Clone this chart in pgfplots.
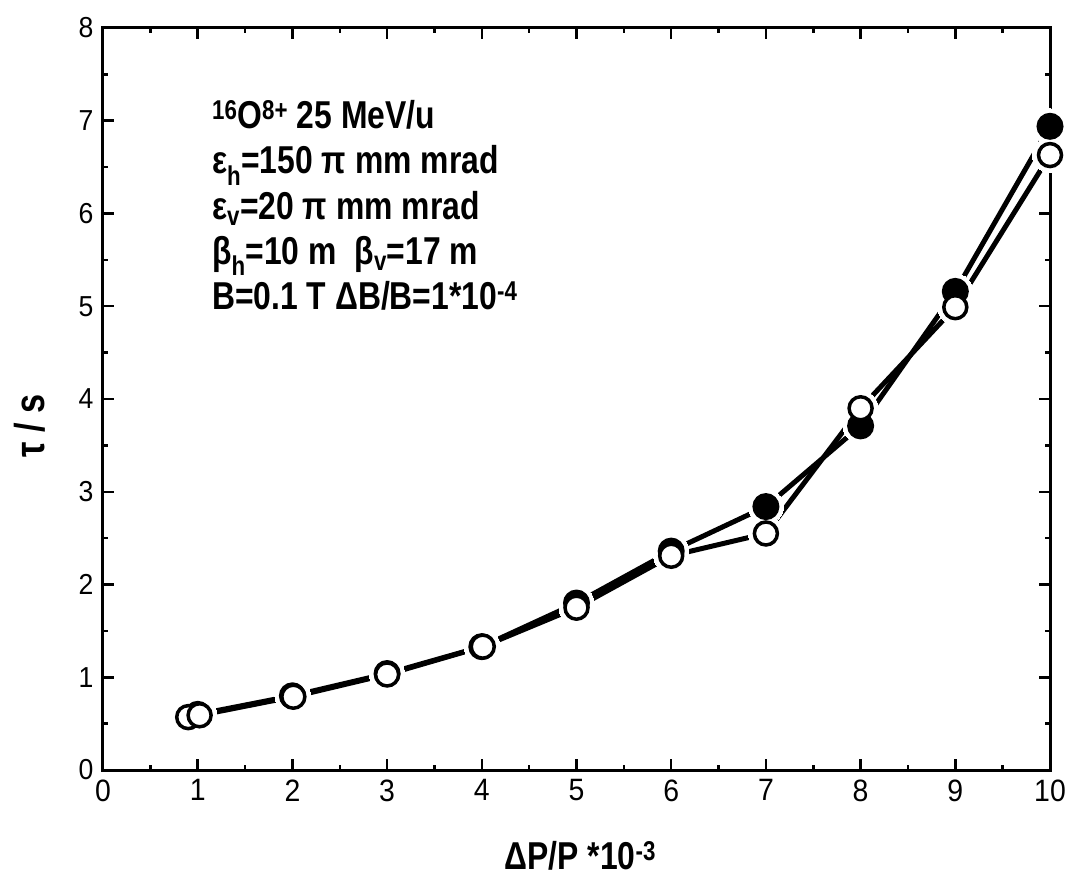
\documentclass[border=0pt]{standalone}
\usepackage{pgfplots}
\pgfplotsset{compat=1.18}
\usepackage{fontspec}
\setmainfont{Liberation Sans}
\newfontfamily\bn[FakeStretch=0.82]{Liberation Sans}
\newfontfamily\tn[FakeStretch=0.92]{Liberation Sans}
\begin{document}
\begin{tikzpicture}
\begin{axis}[
  scale only axis,
  width=947bp, height=742bp,
  xmin=0, xmax=10, ymin=0, ymax=8,
  xtick={0,1,...,10}, ytick={0,1,...,8},
  minor x tick num=1, minor y tick num=1,
  tick align=inside,
  major tick length=11bp, minor tick length=5bp,
  every major tick/.append style={line width=2.5bp, black},
  every minor tick/.append style={line width=2.5bp, black},
  axis line style={line width=3bp},
  axis on top=true,
  clip=false,
  /pgf/number format/assume math mode=true,
  xticklabel style={font=\tn\fontsize{31}{36}\selectfont, yshift=-6bp},
  yticklabel style={font=\tn\fontsize{29}{36}\selectfont, xshift=-6bp},
  xlabel={\bn\bfseries\fontsize{39}{44}\selectfont ΔP/P *10\textsuperscript{-3}},
  xlabel style={at={(axis description cs:0.504,-0.116)}, anchor=center},
  ylabel={\bn\bfseries\fontsize{42}{48}\selectfont τ / s},
  ylabel style={at={(axis description cs:-0.077,0.464)}, anchor=center},
]
% invisible frame to fix picture size
\path (rel axis cs:0,0) ++(-103bp,-112bp) rectangle ++(1074bp,882bp);
% lines
\addplot[black, line width=5bp, no markers] coordinates {
(1,0.60) (2,0.80) (3,1.04) (4,1.33) (5,1.80) (6,2.36) (7,2.84) (8,3.71) (9,5.16) (10,6.94)};
\addplot[black, line width=5bp, no markers] coordinates {
(0.90,0.57) (1.02,0.59) (2.01,0.79) (3.00,1.03) (4.01,1.33) (5.00,1.75) (6.00,2.31) (7.00,2.55) (8.00,3.90) (9.00,4.99) (10.00,6.63)};
% white halos (gaps near markers)
\addplot[white, only marks, mark=*, mark size=17.5bp, mark options={draw=white, fill=white, line width=0pt}] coordinates {
(1,0.60) (2,0.80) (3,1.04) (4,1.33) (5,1.80) (6,2.36) (7,2.84) (8,3.71) (9,5.16) (10,6.94)};
\addplot[white, only marks, mark=*, mark size=17.5bp, mark options={draw=white, fill=white, line width=0pt}] coordinates {
(0.90,0.57) (1.02,0.59) (2.01,0.79) (3.00,1.03) (4.01,1.33) (5.00,1.75) (6.00,2.31) (7.00,2.55) (8.00,3.90) (9.00,4.99) (10.00,6.63)};
% markers
\addplot[black, only marks, mark=*, mark size=12bp, mark options={draw=black, fill=black, line width=3bp}] coordinates {
(1,0.60) (2,0.80) (3,1.04) (4,1.33) (5,1.80) (6,2.36) (7,2.84) (8,3.71) (9,5.16) (10,6.94)};
\addplot[black, only marks, mark=*, mark size=11.5bp, mark options={draw=black, fill=white, line width=3.5bp}] coordinates {
(0.90,0.57) (1.02,0.59) (2.01,0.79) (3.00,1.03) (4.01,1.33) (5.00,1.75) (6.00,2.31) (7.00,2.55) (8.00,3.90) (9.00,4.99) (10.00,6.63)};
% annotation
\node[anchor=base west, inner sep=0pt, align=left, font=\bn\bfseries\fontsize{39}{45.5}\selectfont]
  at (axis cs:1.15,4.96) {\textsuperscript{16}O\textsuperscript{8+} 25 MeV/u\\
ε\textsubscript{h}=150 π mm mrad\\
ε\textsubscript{v}=20 π mm mrad\\
β\textsubscript{h}=10 m\ \ β\textsubscript{v}=17 m\\
B=0.1 T ΔB/B=1*10\textsuperscript{-4}};
\end{axis}
\end{tikzpicture}
\end{document}
